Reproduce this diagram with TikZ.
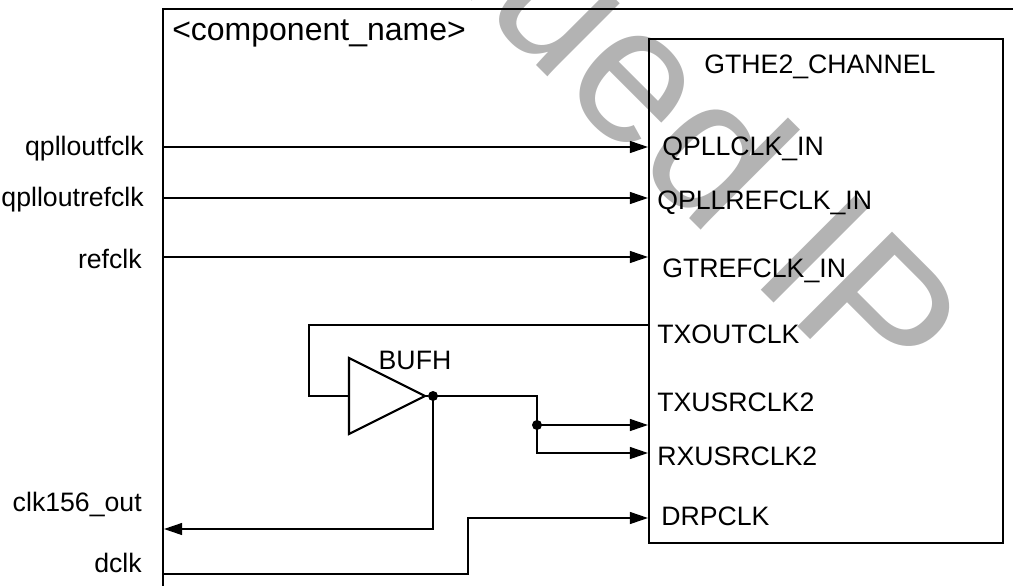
\documentclass[tikz,border=0pt]{standalone}
\usepackage{fontspec}
\setmainfont{Liberation Sans}
\usetikzlibrary{arrows.meta,calc}
\definecolor{wm}{HTML}{B3B3B3}
\tikzset{
  wire/.style={draw=black,line width=0.85pt},
  sig/.style={wire,-{Triangle[length=13.5pt,width=9pt]},shorten >=0.8pt},
  box/.style={draw=black,line width=1.6pt},
  extlabel/.style={anchor=base east,inner sep=0pt,font=\fontsize{20}{24}\selectfont},
  portlabel/.style={anchor=base west,inner sep=0pt,font=\fontsize{20}{24}\selectfont},
  jdot/.style={circle,fill=black,inner sep=0pt,minimum size=7.5pt}
}
\begin{document}
\begin{tikzpicture}[x=0.75pt,y=-0.75pt]
\useasboundingbox (0,0) rectangle (1013,586);
\begin{scope}
\clip (0,0) rectangle (1013,586);
\node[rotate=-45,anchor=base east,text=wm,inner sep=0pt,font=\fontsize{146}{160}\selectfont] (wmark) at (879,408) {Discontinued IP};
\end{scope}
% boxes
\draw[box] (1013,9) -- (163,9) -- (163,586);
\node[box,minimum width=265.5pt,minimum height=378pt,inner sep=0pt,anchor=north west,outer sep=0pt] (gt) at (649,39) {};
\node[anchor=base west,inner sep=0pt,font=\fontsize{24}{28}\selectfont] (comp) at (172,40) {<component\_name>};
\node[anchor=base,inner sep=0pt,font=\fontsize{20}{24}\selectfont] (gtname) at (820,73) {GTHE2\_CHANNEL};
% external labels
\node[extlabel] (l1) at (144,155) {qplloutfclk};
\node[extlabel] (l2) at (144,206) {qplloutrefclk};
\node[extlabel] (l3) at (142,268) {refclk};
\node[extlabel] (l4) at (142,511) {clk156\_out};
\node[extlabel] (l5) at (142,572) {dclk};
% port labels
\node[portlabel] (p1) at (662,155) {QPLLCLK\_IN};
\node[portlabel] (p2) at (657,209) {QPLLREFCLK\_IN};
\node[portlabel] (p3) at (662,277) {GTREFCLK\_IN};
\node[portlabel] (p4) at (657,343) {TXOUTCLK};
\node[portlabel] (p5) at (657,411) {TXUSRCLK2};
\node[portlabel] (p6) at (657,465) {RXUSRCLK2};
\node[portlabel] (p7) at (661,525) {DRPCLK};
\node[anchor=base,inner sep=0pt,font=\fontsize{20}{24}\selectfont] (bufl) at (415,369) {BUFH};
% pins
\coordinate (a1) at (163,147); \coordinate (b1) at (649,147);
\coordinate (a2) at (163,198); \coordinate (b2) at (649,198);
\coordinate (a3) at (163,257); \coordinate (b3) at (649,257);
\coordinate (txo) at (649,325);
\coordinate (fb) at (309,396);
\coordinate (bi) at (349,396);
\coordinate (bo) at (425,396);
\coordinate (ck) at (163,529);
\coordinate (b5) at (649,425);
\coordinate (b6) at (649,453);
\coordinate (b7) at (649,518);
\coordinate (dc) at (163,574);
% buffer
\draw[box,line join=miter] (349,358) -- (425,396) -- (349,434) -- cycle;
\node[jdot] (j1) at (433,396) {};
\node[jdot] (j2) at (537,425) {};
% wires
\draw[sig] (a1) -- (b1);
\draw[sig] (a2) -- (b2);
\draw[sig] (a3) -- (b3);
\draw[wire] (txo) -- (txo -| fb) -- (fb) -- (bi);
\draw[wire] (bo) -- (j1);
\draw[wire] (j1.center) -- (537,396) -- (j2.center);
\draw[sig] (j2.center) -- (b5);
\draw[sig] (j2.center) |- (b6);
\draw[sig] (j1.center) |- (ck);
\draw[sig] (dc) -- (468,574) -- (468,518) -- (b7);
\end{tikzpicture}
\end{document}
